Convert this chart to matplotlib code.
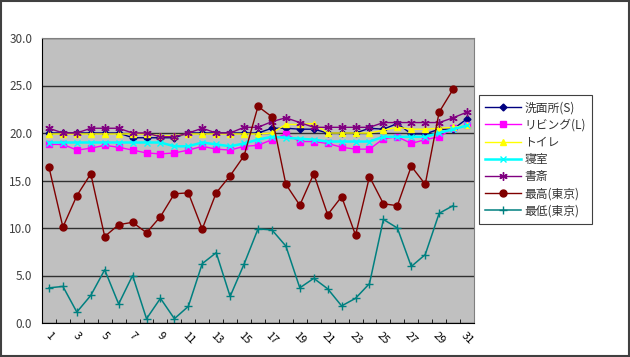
import numpy as np
import matplotlib
matplotlib.use("Agg")
import matplotlib.pyplot as plt
from matplotlib.patches import Rectangle
from matplotlib.ticker import FormatStrFormatter

plt.rcParams['font.family'] = ['Noto Sans CJK JP', 'DejaVu Sans']

# data
days = list(range(1, 32))
senmen = [20.0, 20.0, 20.0, 20.0, 20.0, 20.0, 19.5, 19.5, 19.5, 19.5, 20.0, 20.0, 20.0, 20.0, 20.0, 20.0,
          20.5, 20.5, 20.4, 20.4, 20.0, 20.0, 20.0, 20.5, 20.4, 21.0, 19.9, 19.9, 20.4, 20.4, 21.5]
living = [18.8, 18.8, 18.2, 18.4, 18.7, 18.5, 18.2, 17.9, 17.8, 17.9, 18.2, 18.6, 18.3, 18.2, 18.6, 18.7,
          19.3, 19.9, 19.1, 19.1, 18.9, 18.5, 18.3, 18.3, 19.4, 19.6, 18.9, 19.3, 19.6, 20.5, 20.8]
toilet = [19.9, 19.9, 19.9, 19.9, 19.9, 19.9, 19.9, 19.9, 19.7, 19.7, 19.9, 19.9, 19.9, 19.9, 19.9, 19.9,
          20.0, 20.9, 20.9, 21.0, 20.0, 20.0, 20.0, 20.0, 20.3, 20.6, 20.4, 20.4, 20.5, 20.6, 20.8]
shinshitsu = [19.0, 19.0, 19.0, 19.0, 19.0, 19.0, 19.0, 19.0, 19.0, 18.6, 18.6, 19.0, 18.8, 18.6, 18.9, 19.3,
              19.6, 19.5, 19.4, 19.3, 19.1, 19.1, 19.1, 19.1, 19.6, 19.6, 19.6, 19.6, 20.0, 20.4, 20.8]
shosai = [20.5, 20.0, 20.0, 20.5, 20.5, 20.5, 20.0, 20.0, 19.6, 19.6, 20.0, 20.5, 20.0, 20.0, 20.6, 20.6,
          21.2, 21.6, 21.1, 20.6, 20.6, 20.6, 20.6, 20.6, 21.1, 21.1, 21.1, 21.1, 21.1, 21.6, 22.2]
tokyo_max = [16.4, 10.1, 13.4, 15.7, 9.1, 10.35, 10.6, 9.5, 11.2, 13.6, 13.7, 9.9, 13.7, 15.5, 17.6, 22.8,
             21.7, 14.6, 12.4, 15.7, 11.4, 13.3, 9.25, 15.4, 12.55, 12.35, 16.5, 14.6, 22.2, 24.6]
tokyo_min = [3.7, 3.85, 1.15, 2.9, 5.6, 2.0, 5.0, 0.45, 2.6, 0.45, 1.75, 6.25, 7.4, 2.8, 6.2, 9.9,
             9.8, 8.1, 3.7, 4.7, 3.6, 1.8, 2.6, 4.15, 10.9, 10.0, 5.95, 7.2, 11.55, 12.35]

fig = plt.figure(figsize=(6.3, 3.57), dpi=100)
fig.patch.set_facecolor('white')
fig.patches.append(Rectangle((0.002, 0.003), 0.996, 0.994, transform=fig.transFigure,
                             fill=False, edgecolor='#404040', lw=1.5))

ax = fig.add_axes([42/630, 1-323/357, 432/630, 285/357])
ax.set_facecolor('#C0C0C0')

# series, drawn in Excel order
ax.plot(days, senmen, color='#000080', marker='D', ms=3.5, lw=1, label='洗面所(S)')
ax.plot(days, living, color='#FF00FF', marker='s', ms=5, lw=1, label='リビング(L)')
ax.plot(days, toilet, color='#FFFF00', marker='^', ms=5, lw=1, label='トイレ')
ax.plot(days, shinshitsu, color='#00FFFF', marker='x', ms=4, mew=1, lw=1.8, label='寝室')
ax.plot(days, shosai, color='#800080', marker=(6, 2, 0), ms=6, mew=1, lw=1, label='書斎')
ax.plot(days[:len(tokyo_max)], tokyo_max, color='#800000', marker='o', ms=5, lw=1, label='最高(東京)')
ax.plot(days[:len(tokyo_min)], tokyo_min, color='#008080', marker='+', ms=6, mew=1, lw=1.1, label='最低(東京)')

ax.set_xlim(0.5, 31.5)
ax.set_ylim(0, 30)
ax.set_yticks(np.arange(0, 31, 5))
ax.yaxis.set_major_formatter(FormatStrFormatter('%.1f'))
ax.grid(axis='y', color='#303030', lw=1)
ax.set_axisbelow(True)

ax.set_xticks(days[::2])
ax.set_xticks(np.arange(0.5, 32, 1), minor=True)
ax.tick_params(axis='x', which='major', length=0, labelsize=8, pad=5)
ax.tick_params(axis='x', which='minor', direction='in', length=3, color='black')
ax.tick_params(axis='y', length=0, labelsize=8.5, pad=7, labelcolor='#404040')
for lab in ax.get_xticklabels():
    lab.set_rotation(-45)
    lab.set_ha('center')

ax.spines['left'].set_color('black')
ax.spines['bottom'].set_color('black')
ax.spines['top'].set_color('#808080')
ax.spines['right'].set_color('#808080')

leg = ax.legend(loc='upper left', bbox_to_anchor=(479/630, 1-95/357), bbox_transform=fig.transFigure,
                borderaxespad=0, fancybox=False, framealpha=1, edgecolor='#404040', fontsize=8.5,
                handlelength=3.0, labelspacing=0.35, borderpad=0.55, handletextpad=0.3)
leg.get_frame().set_linewidth(0.8)
for t in leg.get_texts():
    t.set_color('#333333')

fig.savefig('out.png', dpi=100)
